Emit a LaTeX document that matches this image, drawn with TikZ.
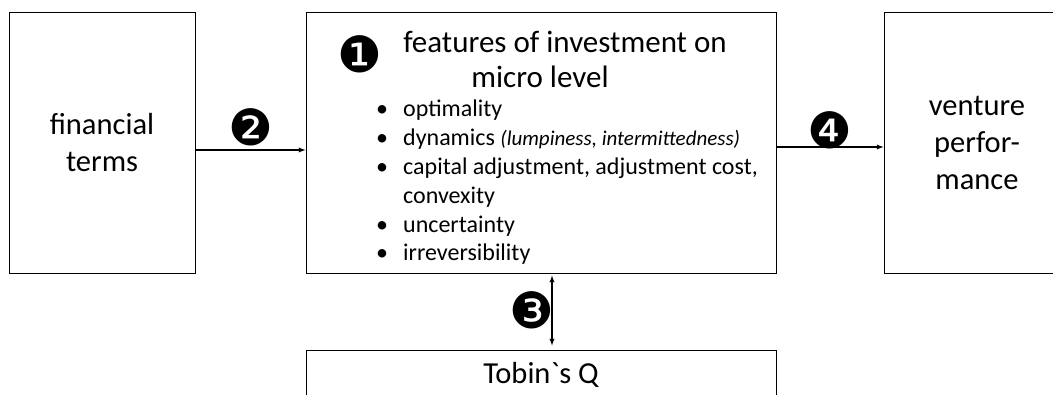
\documentclass[tikz,border=0pt]{standalone}
\usepackage{fontspec}
\newfontfamily\calib{Carlito}
\newfontfamily\dingfont{DejaVu Sans}
\usetikzlibrary{positioning, arrows}
\tikzset{
x=1pt, y=-1pt, % one unit is one pixel of the sketch, y grows downwards
>=latex, % filled arrow heads
every node/.style={font=\calib}, % text is set in a Calibri-like font
box/.style={draw, line width=1pt, minimum width=186pt, minimum height=261pt, align=center, font=\calib\fontsize{30.5}{37}\selectfont}, % the large frames
numlabel/.style={font=\dingfont\fontsize{50}{50}\selectfont, inner sep=0pt}, % black circled step numbers
link/.style={line width=1.3pt}, % the connectors
}
\begin{document}
\begin{tikzpicture}
        \useasboundingbox (0,0) rectangle (1053,394);

        \node[box] (fin) at (102,142.5) {financial\\terms};
        \node[box, minimum width=470pt, right=110pt of fin] (feat) {};
        \node[box, right=107pt of feat] (perf) {venture\\perfor-\\mance};
        \node[box, minimum width=470pt, minimum height=50pt, below=76pt of feat] (tobin) {Tobin`s Q};

        % contents of the middle frame
        \node[numlabel] (n1) at (360,54) {❶};
        \node[font=\calib\fontsize{31}{35}\selectfont] (head1) at (565,42) {features of investment on};
        \node[font=\calib\fontsize{31}{35}\selectfont] (head2) at (540,77) {micro level};
        \node[anchor=north west, align=left, inner sep=0pt, font=\calib\fontsize{24}{28.8}\selectfont] (list) at (376,100)
            {\makebox[27pt][l]{•}optimality\\
             \makebox[27pt][l]{•}dynamics {\itshape\fontsize{21}{28.8}\selectfont (lumpiness, intermittedness)}\\
             \makebox[27pt][l]{•}capital adjustment, adjustment cost,\\
             \hspace*{27pt}convexity\\
             \makebox[27pt][l]{•}uncertainty\\
             \makebox[27pt][l]{•}irreversibility};

        \draw[link, ->] ([yshift=-7.5pt]fin.east) -- node[numlabel, above=3pt] (n2) {❷} ([yshift=-7.5pt]feat.west);
        \draw[link, ->] ([yshift=-4.5pt]feat.east) -- node[numlabel, above=-3pt] (n4) {❹} ([yshift=-4.5pt]perf.west);
        \draw[link, <->] ([xshift=11pt,yshift=-2pt]feat.south) -- node[numlabel, left=-3pt] (n3) {❸} ([xshift=11pt,yshift=4pt]tobin.north);
    \end{tikzpicture}
\end{document}
